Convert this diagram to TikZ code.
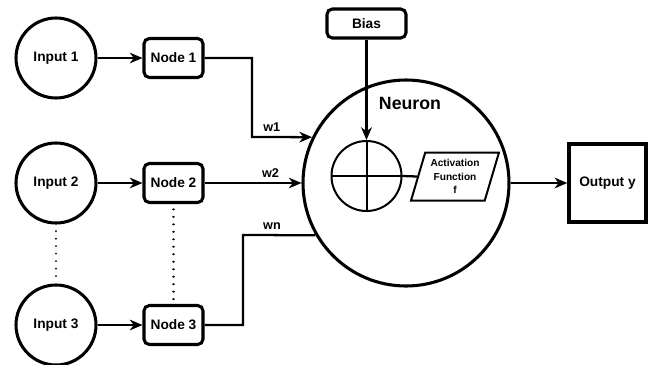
\documentclass[tikz,border=0pt]{standalone}
\usepackage{fontspec}
\setmainfont{Liberation Sans}
\usetikzlibrary{arrows.meta,shapes.geometric}
\begin{document}
\begin{tikzpicture}[x=0.75pt,y=-0.75pt,
  every node/.style={font=\bfseries\fontsize{10.3}{12}\selectfont},
  inputc/.style={circle,draw,line width=2.3pt,minimum size=80*0.75pt,inner sep=0pt},
  nodebox/.style={draw,line width=2.3pt,rounded corners=4pt,minimum width=59*0.75pt,minimum height=39*0.75pt,inner sep=0pt},
  conn/.style={line width=1.7pt},
  arr/.style={conn,-{Stealth[length=9.5pt,width=8pt,inset=3pt]}},
  lbl/.style={font=\bfseries\fontsize{9.5}{10}\selectfont,inner sep=1pt},
  dots/.style={line width=1.6pt,dash pattern=on 0.01pt off 5.6pt,line cap=round}
]
\useasboundingbox (0,0) rectangle (656,364);
% inputs
\node[inputc] (in1) at (56,58) {Input 1};
\node[inputc] (in2) at (56,183) {Input 2};
\node[inputc] (in3) at (56,325) {Input 3};
% nodes
\node[nodebox] (n1) at (173.5,58) {Node 1};
\node[nodebox] (n2) at (173.5,183) {Node 2};
\node[nodebox] (n3) at (173.5,325) {Node 3};
% neuron
\node[circle,draw,line width=2.3pt,minimum size=206*0.75pt,inner sep=0pt] (neuron) at (406,183) {};
\node[font=\bfseries\fontsize{13.3}{15}\selectfont] (nlabel) at (410,103) {Neuron};
% bias
\node[nodebox,minimum width=79*0.75pt,minimum height=29*0.75pt] (bias) at (366.5,23.5) {Bias};
% summing junction
\node[circle,draw,line width=1.5pt,minimum size=70*0.75pt,inner sep=0pt] (sum) at (366.5,176) {};
\draw[line width=1.5pt] (sum.west) -- (sum.east);
\draw[line width=1.5pt] (sum.north) -- (sum.south);
% activation
\node[trapezium,draw,line width=1.5pt,trapezium left angle=71,trapezium right angle=109,
  trapezium stretches=true,minimum width=88*0.75pt,minimum height=48*0.75pt,inner sep=0pt,
  align=center,font=\bfseries\fontsize{7.6}{10}\selectfont] (act) at (455,176.5) {Activation\\Function\\f};
% output
\node[draw,line width=2.6pt,minimum width=77*0.75pt,minimum height=78*0.75pt,inner sep=0pt] (out) at (607.5,183) {Output y};
% connectors
\draw[arr] (in1) -- (n1);
\draw[arr] (in2) -- (n2);
\draw[arr] (in3) -- (n3);
\coordinate (c1) at (252,137);
\coordinate (c3) at (243,235);
\draw[arr] (n1.east) -| (c1) -- node[lbl,above,pos=0.33,yshift=2pt] (w1) {w1} (neuron.154.3);
\draw[arr] (n2.east) -- node[lbl,above,pos=0.68,yshift=2pt] (w2) {w2} (neuron.west);
\draw[conn] (n3.east) -| (c3) -- node[lbl,above,pos=0.4,yshift=2pt] (wn) {wn} (neuron.210.6);
\draw[arr] (bias.south) -- (sum.north);
\draw[conn] (sum.east) -- (act.west);
\draw[arr] (neuron.east) -- (out.west);
% dotted
\draw[dots,shorten <=5pt,shorten >=5pt] (in2.south) -- (in3.north);
\draw[dots,shorten <=4pt,shorten >=3pt] (n2.south) -- (n3.north);
\end{tikzpicture}
\end{document}
